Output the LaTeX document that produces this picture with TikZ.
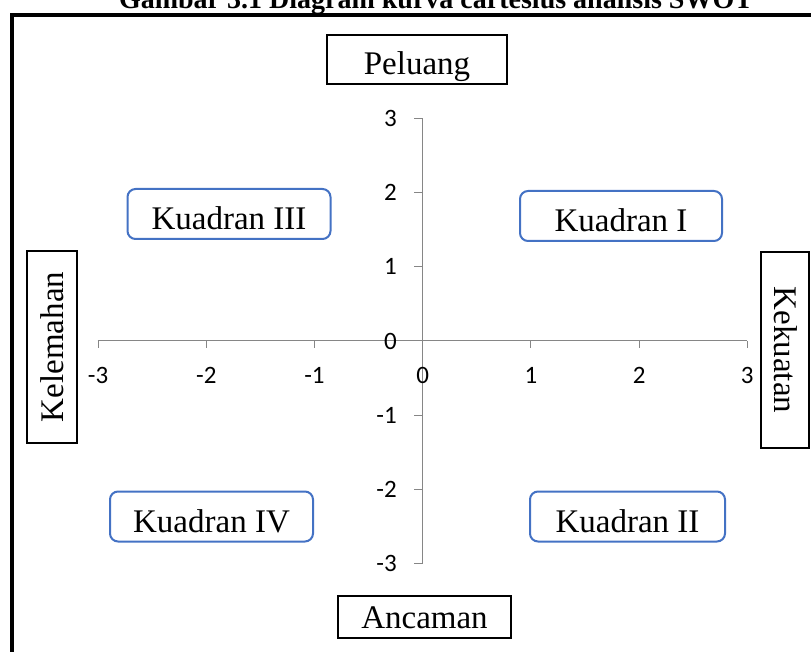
\documentclass[tikz,border=0pt]{standalone}
\usepackage{fontspec}
\setmainfont{Liberation Serif}
\newfontfamily\calib{Carlito}
\definecolor{quadblue}{HTML}{4472C4}
\definecolor{axisgray}{HTML}{868686}
\begin{document}
\begin{tikzpicture}[x=0.75pt,y=-0.75pt,
  axisline/.style={draw=axisgray, line width=0.75pt},
  ticklbl/.style={font=\calib\fontsize{18.75}{22}\selectfont, inner sep=0pt},
  mainfont/.style={font=\fontsize{24.75}{28}\selectfont},
  plainbox/.style={mainfont, draw=black, line width=1.5pt, inner sep=0pt, text depth=0pt},
  quadbox/.style={mainfont, draw=quadblue, line width=1.5pt, rounded corners=6pt, inner sep=0pt,
     minimum height=37.5pt, text height=24pt, text depth=0pt}
]
\useasboundingbox (0,0) rectangle (811,652);
\clip (0,0) rectangle (811,652);

% outer frame
\draw[line width=3.3pt] (12,15) rectangle (900,800);

% title (cut at top, as in the reference)
\node[font=\bfseries\fontsize{21}{24}\selectfont, anchor=base, inner sep=0pt] (title) at (436,9)
  {Gambar 3.1 Diagram kurva cartesius analisis SWOT};

% axes
\coordinate (xl) at (97.7,341);
\coordinate (xr) at (747,341);
\coordinate (yt) at (422.7,118.4);
\coordinate (yb) at (422.7,563.6);
\draw[axisline] (xl) -- (xr);
\draw[axisline] (yt) -- (yb);

% x ticks and labels
\foreach \k/\lab in {-3/-3,-2/-2,-1/-1,0/0,1/1,2/2,3/3}{
  \pgfmathsetmacro{\xx}{422.7+108.2*\k}
  \coordinate (xt\k) at (\xx,341);
  \draw[axisline] (xt\k) -- ++(0,7.5);
  \node[ticklbl] (xlab\k) at (\xx,375.5) {\lab};
}
% y ticks and labels
\foreach \k/\lab in {-3/-3,-2/-2,-1/-1,0/0,1/1,2/2,3/3}{
  \pgfmathsetmacro{\yy}{341-74.2*\k}
  \coordinate (ytk\k) at (422.7,\yy);
  \draw[axisline] (ytk\k) -- ++(-8.5,0);
  \node[ticklbl, anchor=east] (ylab\k) at (397,\yy) {\lab};
}

% side boxes
\node[plainbox, minimum width=135pt, minimum height=36.75pt, text height=23.25pt] (peluang) at (417,59.5) {Peluang};
\node[plainbox, minimum width=129.75pt, minimum height=31.5pt, text height=17pt] (ancaman) at (424.5,617) {Ancaman};
\node[plainbox, rotate=90, minimum width=144pt, minimum height=37.5pt, text height=16.5pt] (kelemahan) at (52,347) {Kelemahan};
\node[plainbox, rotate=-90, minimum width=147pt, minimum height=36pt, text height=16.5pt] (kekuatan) at (785,350) {Kekuatan};

% quadrant boxes
\node[quadbox, minimum width=152.25pt] (k3) at (229,214) {Kuadran III};
\node[quadbox, minimum width=151.5pt] (k1) at (621,216) {Kuadran I};
\node[quadbox, minimum width=152.25pt] (k4) at (211.5,516.5) {Kuadran IV};
\node[quadbox, minimum width=146.25pt] (k2) at (627.5,516.5) {Kuadran II};
\end{tikzpicture}
\end{document}
